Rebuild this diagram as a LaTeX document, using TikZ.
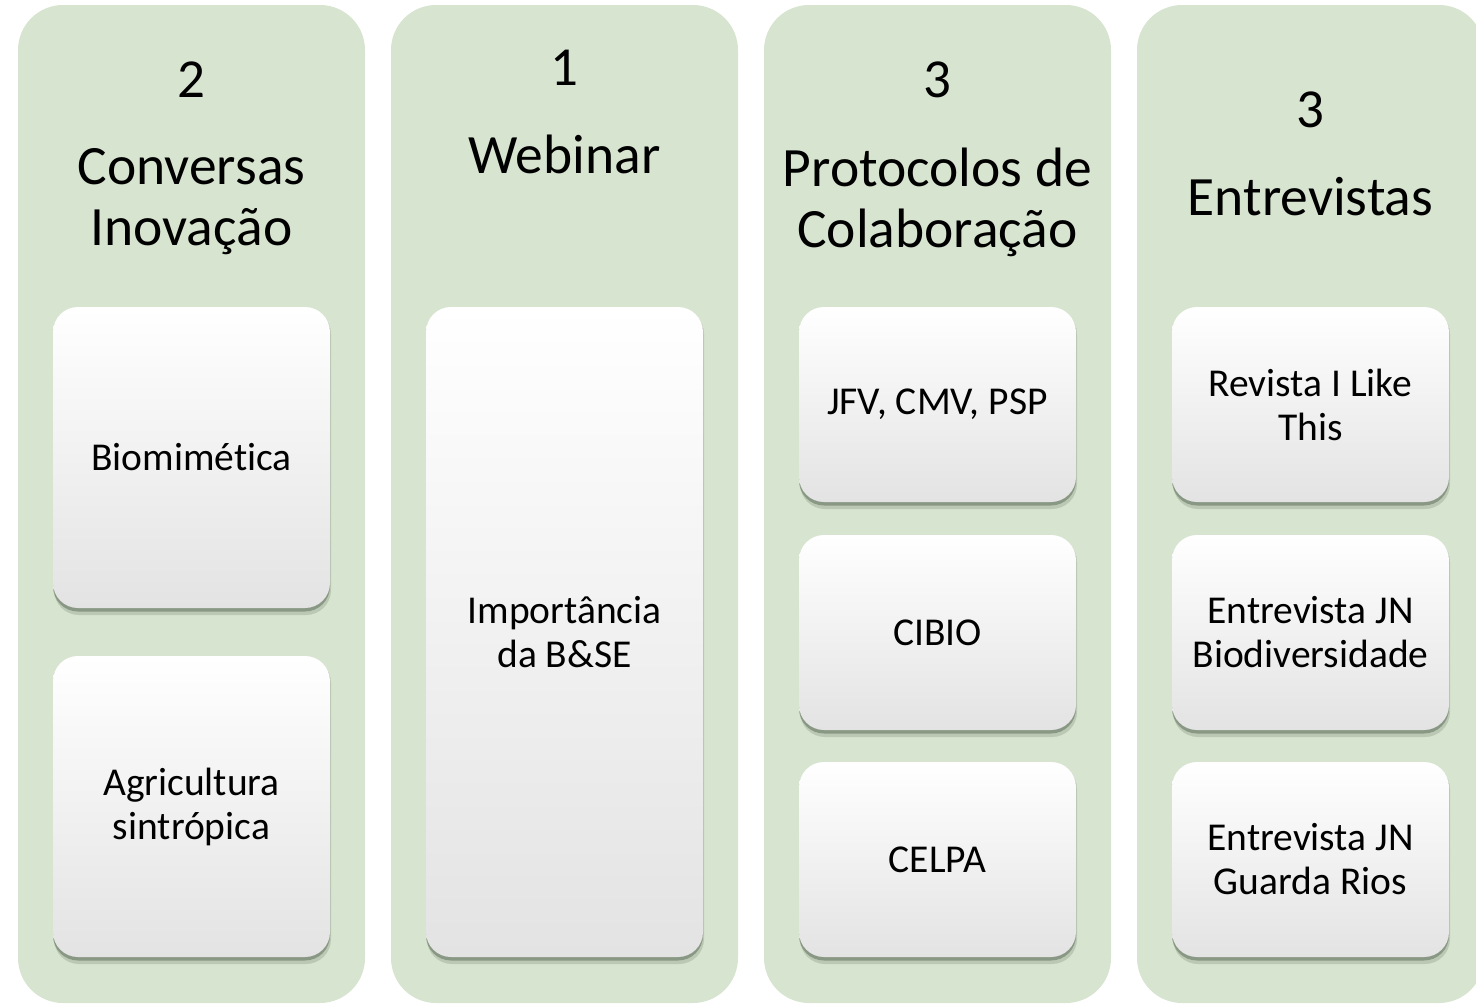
\documentclass[tikz,border=0pt]{standalone}
\usepackage{fontspec}
\setmainfont[Ligatures=NoCommon]{Carlito}
\definecolor{panelgreen}{RGB}{215,228,207}
\definecolor{shadowc}{RGB}{105,120,100}
\definecolor{boxbottom}{RGB}{227,227,227}
\tikzset{
  panel/.style={fill=panelgreen, draw=none, rounded corners=45pt},
  card/.style={rectangle, rounded corners=25pt, minimum width=277pt, inner sep=0pt,
    top color=white, middle color=white, bottom color=boxbottom, draw=none,
    align=center, font=\fontsize{39.5}{44}\selectfont},
  hnum/.style={font=\fontsize{55}{60}\selectfont, inner sep=0pt},
  htitle/.style={font=\fontsize{55.5}{61}\selectfont, align=center, inner sep=0pt},
}
\newcommand{\cardshadow}[4]{%
  \fill[shadowc, opacity=0.25, rounded corners=25pt] (#1+1,#2+2) rectangle (#3+1,#4+7);
  \fill[shadowc, opacity=0.6, rounded corners=25pt] (#1,#2+1) rectangle (#3,#4+3.5);
}
\begin{document}
\begin{tikzpicture}[x=1pt, y=-1pt]
\useasboundingbox (0,0) rectangle (1476,1004);
\clip (0,0) rectangle (1476,1004);
% panels
\fill[panel] (18,5) rectangle (365,1003);
\fill[panel] (391,5) rectangle (738,1003);
\fill[panel] (764,5) rectangle (1111,1003);
\fill[panel] (1137,5) rectangle (1484,1003);
% headers
\node[hnum] (n1) at (191.5,80) {2};
\node[htitle] (t1) at (191.5,202) {Conversas\\Inovação};
\node[hnum] (n2) at (564.5,68) {1};
\node[htitle] (t2) at (564.5,154) {Webinar};
\node[hnum] (n3) at (937.5,80) {3};
\node[htitle] (t3) at (937.5,202) {Protocolos de\\Colaboração};
\node[hnum] (n4) at (1310.5,110) {3};
\node[htitle] (t4) at (1310.5,197) {Entrevistas};
% shadows
\cardshadow{53}{307}{330}{608}
\cardshadow{53}{656}{330}{957}
\cardshadow{426}{307}{703}{957}
\cardshadow{799}{307}{1076}{502}
\cardshadow{799}{535}{1076}{730}
\cardshadow{799}{762}{1076}{957}
\cardshadow{1172}{307}{1449}{502}
\cardshadow{1172}{535}{1449}{730}
\cardshadow{1172}{762}{1449}{957}
% cards
\node[card, minimum height=301pt] (a1) at (191.5,457.5) {Biomimética};
\node[card, minimum height=301pt] (a2) at (191.5,806.5) {Agricultura\\sintrópica};
\node[card, minimum height=650pt] (b1) at (564.5,632) {Importância\\da B\&SE};
\node[card, minimum height=195pt] (c1) at (937.5,404.5) {JFV, CMV, PSP\vphantom{p}};
\node[card, minimum height=195pt] (c2) at (937.5,632.5) {CIBIO};
\node[card, minimum height=195pt] (c3) at (937.5,859.5) {CELPA};
\node[card, minimum height=195pt] (d1) at (1310.5,404.5) {Revista I Like\\This};
\node[card, minimum height=195pt] (d2) at (1310.5,632.5) {Entrevista JN\\Biodiversidade};
\node[card, minimum height=195pt] (d3) at (1310.5,859.5) {Entrevista JN\\Guarda Rios};
\end{tikzpicture}
\end{document}
